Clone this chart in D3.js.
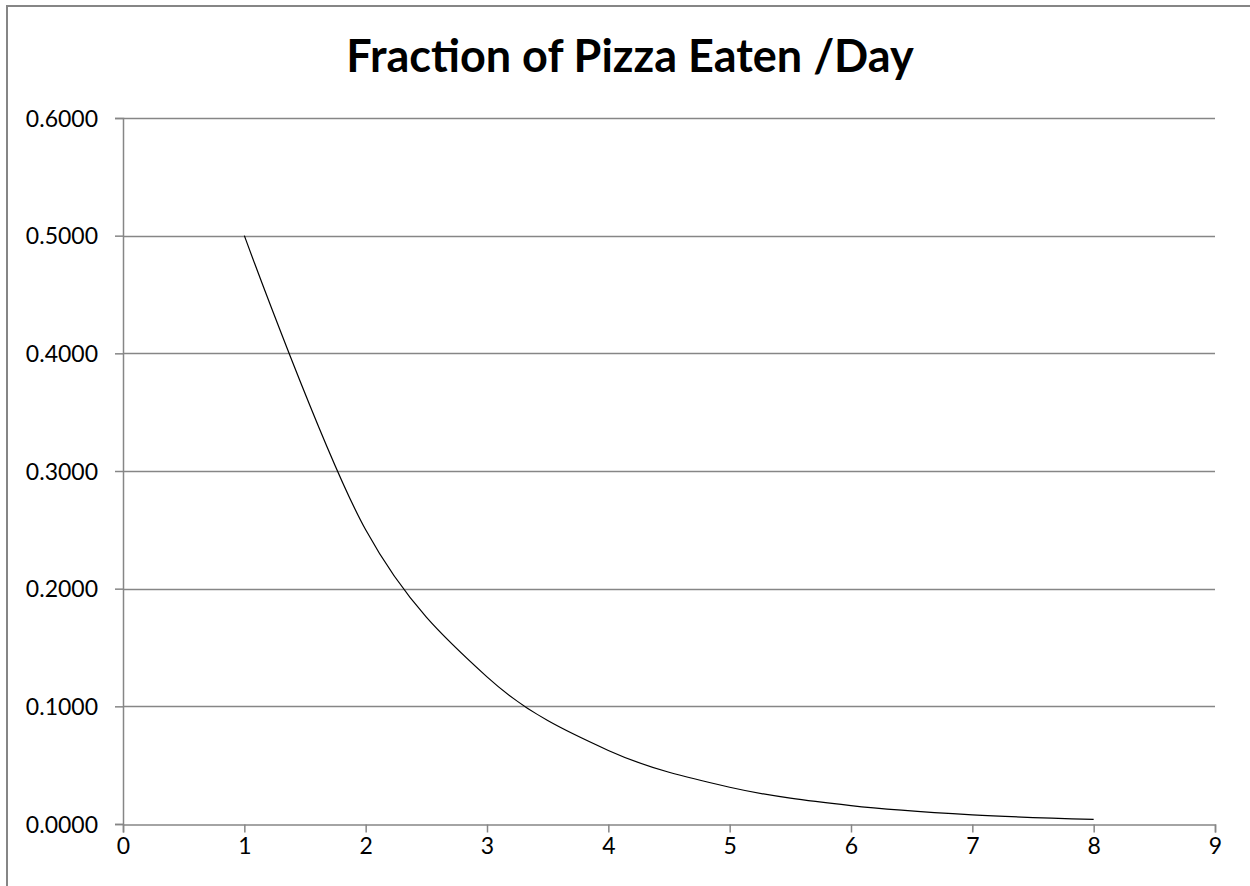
<!DOCTYPE html>
<html>
<head>
<meta charset="utf-8">
<script src="https://cdn.jsdelivr.net/npm/d3@7"></script>
<style>
  body { margin: 0; background: #fff; }
  svg { display: block; font-family: Lato, "Open Sans", sans-serif; }
</style>
</head>
<body>
<svg width="1250" height="886"></svg>
<script>
// chart data
const days = [1, 2, 3, 4, 5, 6, 7, 8];
const fractionEaten = [0.5, 0.25, 0.125, 0.0625, 0.03125, 0.015625, 0.0078125, 0.00390625];
const xTicks = [0, 1, 2, 3, 4, 5, 6, 7, 8, 9];
const yTicks = [0, 0.1, 0.2, 0.3, 0.4, 0.5, 0.6];
const chartTitle = "Fraction of Pizza Eaten /Day";

const svg = d3.select("svg");
const margin = {top: 118, right: 35, bottom: 62, left: 123};
const width = 1250, height = 886;

// outer chart border
svg.append("rect")
    .attr("x", 7).attr("y", 6)
    .attr("width", 1260).attr("height", 900)
    .attr("fill", "none")
    .attr("stroke", "#868686")
    .attr("stroke-width", 2);

const x = d3.scaleLinear().domain([0, 9]).range([margin.left, width - margin.right]);
const y = d3.scaleLinear().domain([0, 0.6]).range([height - margin.bottom, margin.top]);

// gridlines
svg.append("g")
    .selectAll("line")
    .data(yTicks.filter(d => d > 0))
    .enter().append("line")
    .attr("x1", x(0)).attr("x2", x(9))
    .attr("y1", d => Math.round(y(d)) + 0.5)
    .attr("y2", d => Math.round(y(d)) + 0.5)
    .attr("stroke", "#868686")
    .attr("stroke-width", 1.5);

// y axis
const yAxis = svg.append("g")
    .attr("transform", `translate(${x(0)},0)`)
    .call(d3.axisLeft(y).tickValues(yTicks).tickFormat(d3.format(".4f")).tickSize(8).tickPadding(17));

// x axis
const xAxis = svg.append("g")
    .attr("transform", `translate(0,${Math.round(y(0)) + 0.5})`)
    .call(d3.axisBottom(x).tickValues(xTicks).tickSize(8).tickPadding(5));

[yAxis, xAxis].forEach(ax => {
    ax.select(".domain").attr("stroke", "#868686").attr("stroke-width", 1.5);
    ax.selectAll(".tick line").attr("stroke", "#868686").attr("stroke-width", 1.5);
    ax.selectAll(".tick text")
        .attr("fill", "#000")
        .attr("font-size", "23px")
        .attr("font-family", "Lato, 'Open Sans', sans-serif");
});
yAxis.selectAll(".tick text").attr("dy", "0.35em");

// data line, smoothed like the original
const line = d3.line()
    .x((d, i) => x(days[i]))
    .y(d => y(d))
    .curve(d3.curveCatmullRom.alpha(0));

svg.append("path")
    .datum(fractionEaten)
    .attr("d", line)
    .attr("fill", "none")
    .attr("stroke", "#000")
    .attr("stroke-width", 1.2);

// title
svg.append("text")
    .attr("x", 630)
    .attr("y", 72)
    .attr("text-anchor", "middle")
    .attr("font-size", "45px")
    .attr("font-weight", "bold")
    .attr("fill", "#000")
    .text(chartTitle);
</script>
</body>
</html>
